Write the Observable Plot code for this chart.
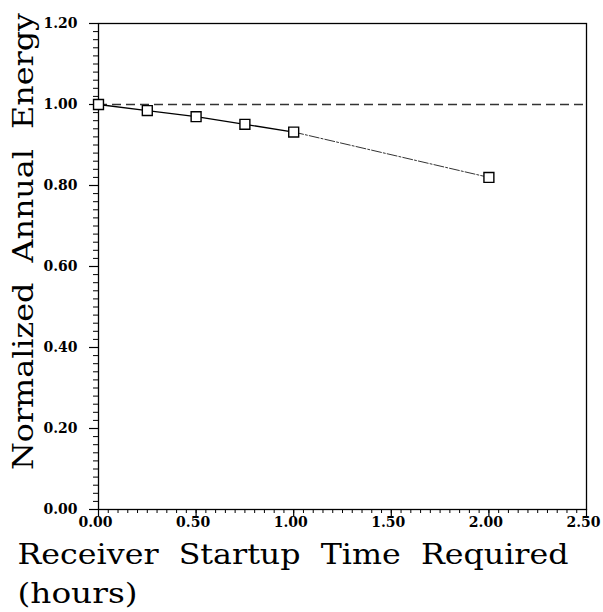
<!DOCTYPE html>
<html>
<head>
<meta charset="utf-8">
<script src="https://cdn.jsdelivr.net/npm/d3@7"></script>
<script src="https://cdn.jsdelivr.net/npm/@observablehq/plot@0.6"></script>
<style>
  html, body { margin: 0; padding: 0; background: white; }
</style>
</head>
<body>
<div id="chart"></div>
<script>
// ---- data ----
const startupHours = [0, 0.25, 0.5, 0.75, 1.0, 2.0];
const normalizedEnergy = [1.000, 0.985, 0.970, 0.951, 0.932, 0.820];
const referenceLevel = [1.0];
const xTickValues = [0, 0.5, 1.0, 1.5, 2.0, 2.5];
const yTickValues = [0, 0.2, 0.4, 0.6, 0.8, 1.0, 1.2];
const xMinorTicks = d3.range(0, 51).map(i => i * 0.05);
const yMinorTicks = d3.range(0, 61).map(i => i * 0.02);
const xTitle = "Receiver  Startup  Time  Required";
const xUnit = "(hours)";
const yTitle = "Normalized  Annual  Energy";

const data = startupHours.map((x, i) => ({x, y: normalizedEnergy[i]}));
const solidPart = data.filter(d => d.x <= 1.0);
const tailPart = data.filter(d => d.x >= 1.0);
const fmt = d3.format(".2f");

const svg = Plot.plot({
  width: 603,
  height: 612,
  marginLeft: 98,
  marginRight: 17,
  marginTop: 23,
  marginBottom: 103,
  style: {fontFamily: "DejaVu Serif", background: "white", color: "black", overflow: "visible"},
  x: {domain: [0, 2.5]},
  y: {domain: [0, 1.2]},
  marks: [
    Plot.frame({stroke: "black", strokeWidth: 1.3}),
    Plot.axisX({ticks: xMinorTicks, tickSize: 4, tickFormat: () => "", label: null, strokeWidth: 1}),
    Plot.axisX({ticks: xTickValues, tickSize: 7, tickFormat: () => "", label: null, strokeWidth: 1.2}),
    Plot.axisX({ticks: xTickValues, tickSize: 0, tickPadding: 8, tickFormat: fmt, label: null,
      fontSize: 14, fontWeight: "bold", dx: -3}),
    Plot.axisY({ticks: yMinorTicks, tickSize: 5, tickFormat: () => "", label: null, strokeWidth: 1}),
    Plot.axisY({ticks: yTickValues, tickSize: 9, tickPadding: 12, tickFormat: fmt, label: null,
      fontSize: 14, fontWeight: "bold", strokeWidth: 1.2}),
    Plot.ruleY(referenceLevel, {stroke: "#333", strokeWidth: 1.3, strokeDasharray: "9,5"}),
    Plot.line(solidPart, {x: "x", y: "y", stroke: "black", strokeWidth: 1.3}),
    Plot.line(tailPart, {x: "x", y: "y", stroke: "#333", strokeWidth: 1, strokeDasharray: "10,2,2,2"}),
    Plot.dot(data, {x: "x", y: "y", symbol: "square", r: 5.6, fill: "white", stroke: "black", strokeWidth: 1.4}),
    Plot.text([xTitle], {frameAnchor: "bottom-left", textAnchor: "start", lineAnchor: "bottom",
      dx: -81, dy: 54, fontSize: 28, fill: "black"}),
    Plot.text([xUnit], {frameAnchor: "bottom-left", textAnchor: "start", lineAnchor: "bottom",
      dx: -81, dy: 93, fontSize: 28, fill: "black"}),
    Plot.text([yTitle], {frameAnchor: "left", textAnchor: "middle", lineAnchor: "bottom", rotate: -90,
      dx: -66, dy: -25, fontSize: 28, fill: "black"})
  ]
});

const lengths = {[xTitle]: 551, [xUnit]: 120, [yTitle]: 457};
d3.select(svg).selectAll("text").each(function() {
  const t = this.textContent;
  if (lengths[t]) {
    d3.select(this).style("white-space", "pre")
      .attr("textLength", lengths[t]).attr("lengthAdjust", "spacingAndGlyphs");
  }
});

document.getElementById("chart").appendChild(svg);
</script>
</body>
</html>
